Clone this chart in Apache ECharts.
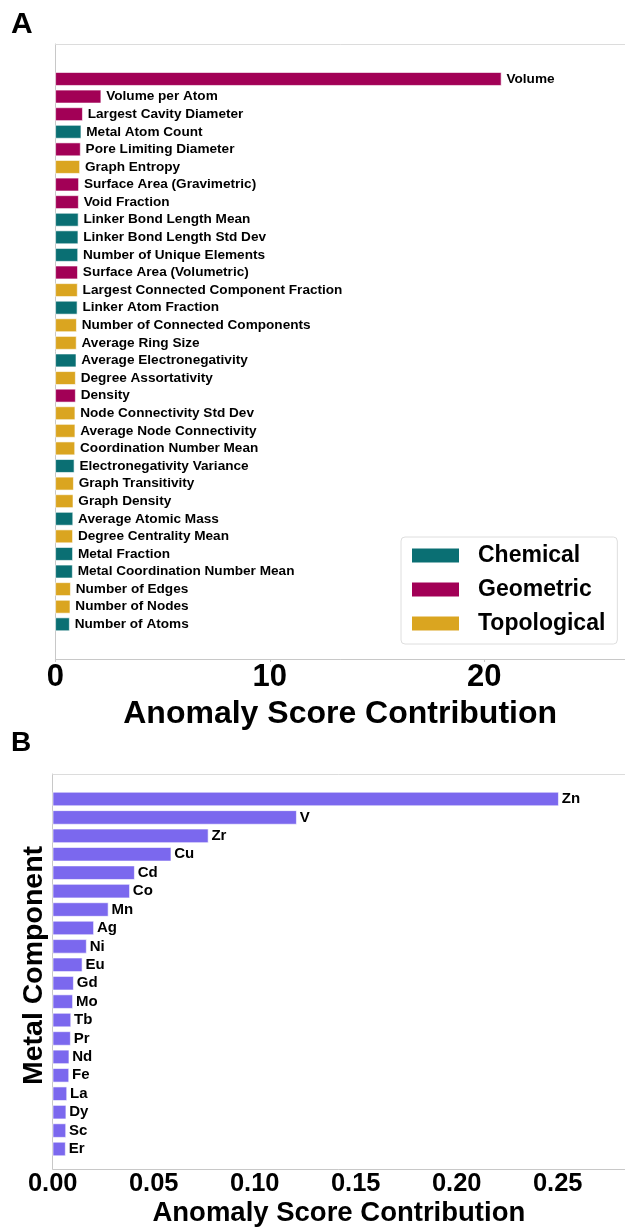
<!DOCTYPE html>
<html>
<head>
<meta charset="utf-8">
<script src="https://cdn.jsdelivr.net/npm/echarts@6/dist/echarts.min.js"></script>
<style>
html,body{margin:0;padding:0;background:#fff;}
#chart{width:625px;height:1228px;}
</style>
</head>
<body>
<div id="chart"></div>
<script>
// ---- Panel A data ----
const features = [
  'Volume','Volume per Atom','Largest Cavity Diameter','Metal Atom Count','Pore Limiting Diameter',
  'Graph Entropy','Surface Area (Gravimetric)','Void Fraction','Linker Bond Length Mean',
  'Linker Bond Length Std Dev','Number of Unique Elements','Surface Area (Volumetric)',
  'Largest Connected Component Fraction','Linker Atom Fraction','Number of Connected Components',
  'Average Ring Size','Average Electronegativity','Degree Assortativity','Density',
  'Node Connectivity Std Dev','Average Node Connectivity','Coordination Number Mean',
  'Electronegativity Variance','Graph Transitivity','Graph Density','Average Atomic Mass',
  'Degree Centrality Mean','Metal Fraction','Metal Coordination Number Mean','Number of Edges',
  'Number of Nodes','Number of Atoms'
];
const featureValues = [
  20.8, 2.14, 1.28, 1.21, 1.18, 1.15, 1.10, 1.09, 1.08, 1.07, 1.06, 1.05, 1.04, 1.03, 1.00,
  0.99, 0.98, 0.95, 0.95, 0.93, 0.93, 0.92, 0.89, 0.86, 0.84, 0.83, 0.82, 0.82, 0.81, 0.72,
  0.70, 0.67
];
const featureGroups = [
  'Geometric','Geometric','Geometric','Chemical','Geometric','Topological','Geometric','Geometric',
  'Chemical','Chemical','Chemical','Geometric','Topological','Chemical','Topological','Topological',
  'Chemical','Topological','Geometric','Topological','Topological','Topological','Chemical',
  'Topological','Topological','Chemical','Topological','Chemical','Chemical','Topological',
  'Topological','Chemical'
];
const groupNames = ['Chemical','Geometric','Topological'];
const groupColors = {Chemical:'#0a6f73', Geometric:'#a20056', Topological:'#daa520'};
const xTicksA = [0, 10, 20];

// ---- Panel B data ----
const metals = ['Zn','V','Zr','Cu','Cd','Co','Mn','Ag','Ni','Eu','Gd','Mo','Tb','Pr','Nd','Fe','La','Dy','Sc','Er'];
const metalValues = [0.2505, 0.1208, 0.0771, 0.0587, 0.0406, 0.0382, 0.0276, 0.0204, 0.0168, 0.0147,
  0.0104, 0.0100, 0.0091, 0.0089, 0.0082, 0.0081, 0.0071, 0.0067, 0.0066, 0.0064];
const metalColor = '#7b68ee';

const FONT = '"Liberation Sans", Arial, Helvetica, sans-serif';
const AXIS_GRAY = '#c8c8c8';
const A_MAX = 26.56;
const B_MAX = 0.2833;

const chart = echarts.init(document.getElementById('chart'), null, {renderer:'canvas'});

const seriesA = groupNames.map(g => ({
  name: g,
  type: 'bar',
  xAxisIndex: 2, yAxisIndex: 1,
  barWidth: '77%',
  barGap: '-100%',
  itemStyle: {color: groupColors[g], borderColor: '#ffffff', borderWidth: 0.6},
  label: {
    show: true, position: 'right', distance: 5,
    formatter: p => features[p.dataIndex],
    fontFamily: FONT, fontWeight: 'bold', fontSize: 13.6, color: '#000'
  },
  data: featureValues.map((v, i) => featureGroups[i] === g ? v : null)
}));

const option = {
  animation: false,
  backgroundColor: '#ffffff',
  textStyle: {fontFamily: FONT},
  graphic: [
    {type:'text', left: 11, top: 10, style:{text:'A', font:'bold 30px ' + FONT, fill:'#000'}},
    {type:'text', left: 11, top: 729, style:{text:'B', font:'bold 28px ' + FONT, fill:'#000'}}
  ],
  legend: {
    data: groupNames,
    orient: 'vertical',
    left: 401, top: 537,
    itemWidth: 49, itemHeight: 16, itemGap: 11,
    icon: 'rect',
    padding: [7, 12, 9, 9],
    backgroundColor: '#fff',
    borderColor: '#dedede', borderWidth: 1, borderRadius: 4,
    textStyle: {fontFamily: FONT, fontWeight: 'bold', fontSize: 23, lineHeight: 23, color: '#000', padding: [0,0,0,13]}
  },
  grid: [
    {left: 55.3, right: 0, top: 44, height: 615},       // A frame
    {left: 55.3, right: 0, top: 70.2, height: 562.9},   // A data
    {left: 52.7, right: 0, top: 774, height: 400},      // B frame
    {left: 52.7, right: 0, top: 789.8, height: 368.4}   // B data
  ],
  xAxis: [
    { // 0: A frame bottom
      gridIndex: 0, type: 'value', min: 0, max: A_MAX, interval: 10,
      axisLine: {show: true, lineStyle: {color: AXIS_GRAY, width: 1}},
      axisTick: {show: true, length: 3, lineStyle: {color: AXIS_GRAY}},
      splitLine: {show: false},
      axisLabel: {show: true, showMaxLabel: false, margin: 3, fontFamily: FONT, fontWeight: 'bold', fontSize: 31, color: '#000',
        formatter: v => xTicksA.indexOf(v) >= 0 ? String(v) : ''},
      name: 'Anomaly Score Contribution', nameLocation: 'middle', nameGap: 25,
      nameTextStyle: {fontFamily: FONT, fontWeight: 'bold', fontSize: 32, color: '#000'}
    },
    { // 1: A frame top border
      gridIndex: 0, type: 'value', position: 'top', min: 0, max: A_MAX,
      axisLine: {show: true, lineStyle: {color: '#dcdcdc', width: 1}},
      axisTick: {show: false}, axisLabel: {show: false}, splitLine: {show: false}
    },
    { // 2: A data
      gridIndex: 1, type: 'value', min: 0, max: A_MAX, show: false, splitLine: {show: false}
    },
    { // 3: B frame bottom
      gridIndex: 2, type: 'value', min: 0, max: B_MAX, interval: 0.05,
      axisLine: {show: true, lineStyle: {color: AXIS_GRAY, width: 1}},
      axisTick: {show: false},
      splitLine: {show: false},
      axisLabel: {show: true, showMaxLabel: false, margin: 2, fontFamily: FONT, fontWeight: 'bold', fontSize: 25.5, color: '#000',
        formatter: v => v.toFixed(2)},
      name: 'Anomaly Score Contribution', nameLocation: 'middle', nameGap: 30,
      nameTextStyle: {fontFamily: FONT, fontWeight: 'bold', fontSize: 27.5, color: '#000'}
    },
    { // 4: B frame top border
      gridIndex: 2, type: 'value', position: 'top', min: 0, max: B_MAX,
      axisLine: {show: true, lineStyle: {color: '#dcdcdc', width: 1}},
      axisTick: {show: false}, axisLabel: {show: false}, splitLine: {show: false}
    },
    { // 5: B data
      gridIndex: 3, type: 'value', min: 0, max: B_MAX, show: false, splitLine: {show: false}
    }
  ],
  yAxis: [
    { // 0: A frame left
      gridIndex: 0, type: 'value', min: 0, max: 1,
      axisLine: {show: true, lineStyle: {color: AXIS_GRAY, width: 1}},
      axisTick: {show: false}, axisLabel: {show: false}, splitLine: {show: false}
    },
    { // 1: A data
      gridIndex: 1, type: 'category', data: features, inverse: true, show: false
    },
    { // 2: B frame left
      gridIndex: 2, type: 'value', min: 0, max: 1,
      axisLine: {show: true, lineStyle: {color: AXIS_GRAY, width: 1}},
      axisTick: {show: false}, axisLabel: {show: false}, splitLine: {show: false},
      name: 'Metal Component', nameLocation: 'middle', nameGap: 4,
      nameTextStyle: {fontFamily: FONT, fontWeight: 'bold', fontSize: 28.5, color: '#000', padding: [0, 0, 0, 12]}
    },
    { // 3: B data
      gridIndex: 3, type: 'category', data: metals, inverse: true, show: false
    }
  ],
  series: seriesA.concat([{
    name: 'Metal',
    type: 'bar',
    xAxisIndex: 5, yAxisIndex: 3,
    barWidth: '77%',
    itemStyle: {color: metalColor, borderColor: '#ffffff', borderWidth: 0.6},
    label: {
      show: true, position: 'right', distance: 3,
      formatter: p => metals[p.dataIndex],
      fontFamily: FONT, fontWeight: 'bold', fontSize: 15, color: '#000'
    },
    data: metalValues
  }])
};
chart.setOption(option);
</script>
</body>
</html>
